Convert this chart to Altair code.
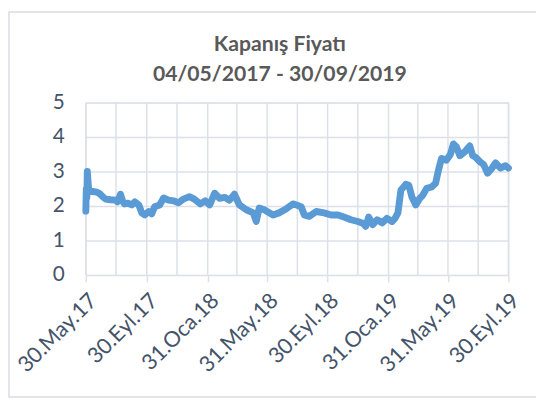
import altair as alt
import pandas as pd

dates = [
    "2017-05-30", "2017-05-31", "2017-06-01", "2017-06-02", "2017-06-05", "2017-06-13",
    "2017-06-21", "2017-06-27", "2017-07-03", "2017-07-09", "2017-07-19", "2017-07-29",
    "2017-08-02", "2017-08-08", "2017-08-12", "2017-08-16", "2017-08-23", "2017-08-31",
    "2017-09-06", "2017-09-14", "2017-09-20", "2017-09-26", "2017-10-04", "2017-10-10",
    "2017-10-16", "2017-10-26", "2017-11-03", "2017-11-13", "2017-11-23", "2017-12-03",
    "2017-12-13", "2017-12-25", "2018-01-04", "2018-01-16", "2018-01-26", "2018-02-04",
    "2018-02-14", "2018-02-24", "2018-03-06", "2018-03-16", "2018-03-26", "2018-04-05",
    "2018-04-19", "2018-05-03", "2018-05-09", "2018-05-15", "2018-05-25", "2018-06-12",
    "2018-06-24", "2018-07-08", "2018-07-22", "2018-07-29", "2018-08-08", "2018-08-14",
    "2018-08-24", "2018-09-07", "2018-09-23", "2018-10-07", "2018-10-21", "2018-11-02",
    "2018-11-16", "2018-11-30", "2018-12-10", "2018-12-16", "2018-12-22", "2018-12-30",
    "2019-01-08", "2019-01-18", "2019-01-28", "2019-02-07", "2019-02-13", "2019-02-19",
    "2019-02-25", "2019-03-07", "2019-03-13", "2019-03-19", "2019-03-27", "2019-04-04",
    "2019-04-10", "2019-04-18", "2019-04-28", "2019-05-06", "2019-05-12", "2019-05-18",
    "2019-05-28", "2019-06-05", "2019-06-11", "2019-06-17", "2019-06-24", "2019-07-04",
    "2019-07-14", "2019-07-20", "2019-07-26", "2019-08-03", "2019-08-11", "2019-08-19",
    "2019-08-27", "2019-09-04", "2019-09-14", "2019-09-24", "2019-09-30",
]
prices = [
    1.85, 2.50, 2.25, 3.00, 2.42, 2.42,
    2.40, 2.36, 2.27, 2.20, 2.18, 2.17,
    2.12, 2.34, 2.15, 2.06, 2.08, 2.03,
    2.12, 2.03, 1.80, 1.74, 1.84, 1.77,
    1.98, 2.03, 2.23, 2.17, 2.15, 2.09,
    2.20, 2.27, 2.20, 2.06, 2.15, 2.03,
    2.37, 2.22, 2.25, 2.17, 2.34, 2.03,
    1.89, 1.80, 1.55, 1.94, 1.89, 1.74,
    1.80, 1.91, 2.06, 2.03, 1.97, 1.74,
    1.70, 1.84, 1.80, 1.74, 1.74, 1.68,
    1.60, 1.55, 1.50, 1.41, 1.68, 1.46,
    1.60, 1.51, 1.64, 1.55, 1.64, 1.80,
    2.46, 2.63, 2.60, 2.27, 2.03, 2.22,
    2.31, 2.51, 2.55, 2.66, 3.05, 3.38,
    3.33, 3.50, 3.80, 3.72, 3.46, 3.57,
    3.74, 3.46, 3.41, 3.29, 3.20, 2.95,
    3.08, 3.25, 3.10, 3.17, 3.10,
]

tick_dates = ["2017-05-30", "2017-09-30", "2018-01-31", "2018-05-31",
              "2018-09-30", "2019-01-31", "2019-05-31", "2019-09-30"]
tick_labels = ["30.May.17", "30.Eyl.17", "31.Oca.18", "31.May.18",
               "30.Eyl.18", "31.Oca.19", "31.May.19", "30.Eyl.19"]
minor_dates = ["2017-07-30", "2017-11-30", "2018-03-31", "2018-07-31",
               "2018-11-30", "2019-03-31", "2019-07-31"]
y_ticks = [0, 1, 2, 3, 4, 5]
title_lines = ["Kapanış Fiyatı", "04/05/2017 - 30/09/2019"]

def dt(s):
    y, m, d = (int(p) for p in s.split("-"))
    return alt.DateTime(year=y, month=m, date=d, utc=True)

df = pd.DataFrame({"date": dates, "price": prices})
grid_df = pd.DataFrame({"date": tick_dates + minor_dates})

label_expr = "[{}][indexof([{}], utcFormat(datum.value, '%Y-%m-%d'))]".format(
    ",".join("'%s'" % l for l in tick_labels),
    ",".join("'%s'" % d for d in tick_dates),
)

W, H = 429, 175
GRID = "#DCE0E8"
LABEL = "#44546A"
FONT = "Lato"

x_scale = alt.Scale(type="utc", domain=[dt(tick_dates[0]), dt(tick_dates[-1])])
y_scale = alt.Scale(domain=[0, 5], nice=False)

x_axis = alt.Axis(
    values=[dt(d) for d in tick_dates], labelExpr=label_expr, title=None,
    grid=False, domain=False, ticks=True, tickSize=7, tickColor=GRID, tickWidth=1.5,
    labelAngle=-45, labelAlign="right", labelBaseline="top", labelPadding=8,
    labelFontSize=22, labelColor=LABEL, labelFont=FONT, labelOverlap=False,
    labelBound=False, labelFlush=False,
)
y_axis = alt.Axis(
    values=y_ticks, title=None, grid=True, gridColor=GRID, gridWidth=1.5,
    domain=False, ticks=False, labelPadding=22, labelFontSize=21,
    labelColor=LABEL, labelFont=FONT,
)

vgrid = alt.Chart(grid_df).mark_rule(color=GRID, strokeWidth=1.5).encode(
    x=alt.X("date:T", scale=x_scale, axis=x_axis)
)

line = alt.Chart(df).mark_line(
    color="#5B9BD5", strokeWidth=7, strokeCap="round", strokeJoin="round"
).encode(
    x=alt.X("date:T", scale=x_scale, axis=x_axis),
    y=alt.Y("price:Q", scale=y_scale, axis=y_axis),
)

one = alt.Data(values=[{"a": 1}])

border = alt.Chart(one).mark_rect(
    fillOpacity=0, stroke="#D9DCE3", strokeWidth=1.5
).encode(
    x=alt.value(-78), x2=alt.value(W + 40), y=alt.value(-92), y2=alt.value(H + 124)
)

title1 = alt.Chart(one).mark_text(
    text=title_lines[0], font=FONT, fontSize=21.5, fontWeight="bold",
    color="#595959", align="center", baseline="alphabetic",
).encode(x=alt.value(197), y=alt.value(-52))

title2 = alt.Chart(one).mark_text(
    text=title_lines[1], font=FONT, fontSize=21.5, fontWeight="bold",
    color="#595959", align="center", baseline="alphabetic",
).encode(x=alt.value(197), y=alt.value(-22))

chart = alt.layer(vgrid, line, border, title1, title2).properties(
    width=W, height=H,
    autosize=alt.AutoSizeParams(type="none"),
    padding={"left": 79, "top": 93, "right": 28, "bottom": 125},
).configure_view(stroke=None).configure(background="white")

chart.save("out.html", embed_options={"renderer": "svg", "actions": False})
